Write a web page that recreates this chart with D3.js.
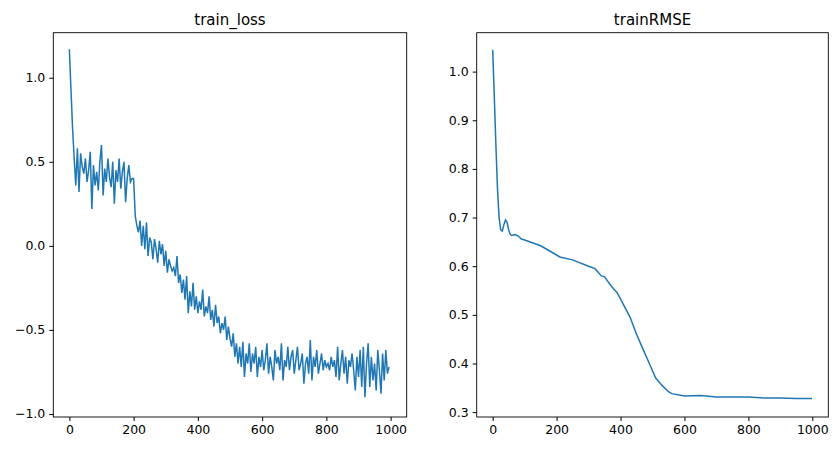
<html>
<head>
<meta charset="utf-8">
<script src="https://cdn.jsdelivr.net/npm/d3@7"></script>
<style>
  body { margin: 0; background: white; }
  text { font-family: "DejaVu Sans", sans-serif; }
</style>
</head>
<body>
<script>
// train_loss sampled every 5 steps
var lossStep = 5;
var lossValues = [1.17, 0.93, 0.70, 0.52, 0.36,
  0.58, 0.32, 0.55, 0.47, 0.43, 0.52, 0.38, 0.45, 0.56, 0.22, 0.48, 0.36, 0.44, 0.33, 0.50, 0.60, 0.30, 0.46, 0.38, 0.52,
  0.41, 0.35, 0.50, 0.25, 0.45, 0.38, 0.52, 0.34, 0.44, 0.50, 0.26, 0.40, 0.48, 0.38, 0.40,
  0.40, 0.18, 0.12, 0.08, 0.15, 0.00, 0.12, -0.02, 0.14, -0.06, 0.05,
  0.02, -0.08, 0.04, -0.02, -0.10, 0.03, -0.05, 0.01, -0.12, -0.03, -0.16, -0.08, -0.12, -0.15, -0.13, -0.18, -0.06,
  -0.22, -0.17, -0.28, -0.20, -0.32, -0.18, -0.40, -0.27, -0.36, -0.22, -0.38, -0.30, -0.40, -0.33, -0.38, -0.26,
  -0.42, -0.36, -0.40, -0.30, -0.44, -0.38, -0.48, -0.35, -0.46, -0.42, -0.52, -0.46, -0.50, -0.42, -0.56, -0.48,
  -0.55, -0.60, -0.52, -0.66, -0.58, -0.70, -0.60, -0.72, -0.57, -0.78, -0.64, -0.70, -0.58, -0.75, -0.64, -0.70,
  -0.60, -0.78, -0.66, -0.72, -0.62, -0.74, -0.68, -0.58, -0.76, -0.66, -0.72, -0.80, -0.62, -0.70, -0.66, -0.74,
  -0.58, -0.80, -0.68, -0.72, -0.60, -0.74, -0.66, -0.62, -0.76, -0.68, -0.60, -0.74, -0.70, -0.64, -0.82, -0.70,
  -0.66, -0.76, -0.56, -0.80, -0.66, -0.72, -0.62, -0.76, -0.70, -0.64, -0.74, -0.68, -0.72, -0.70, -0.74, -0.66,
  -0.72, -0.68, -0.78, -0.60, -0.80, -0.70, -0.62, -0.76, -0.66, -0.82, -0.68, -0.72, -0.64, -0.74, -0.86, -0.66,
  -0.78, -0.62, -0.84, -0.60, -0.90, -0.70, -0.58, -0.84, -0.66, -0.80, -0.70, -0.86, -0.62, -0.74, -0.88, -0.64,
  -0.80, -0.62, -0.76, -0.72];

var rmseSteps = [0, 5, 10, 15, 20, 25, 30, 35, 40, 45, 50, 55, 60, 70, 80, 90, 100, 150, 200, 210, 250, 300, 320, 340, 350,
  370, 390, 410, 430, 450, 470, 490, 510, 530, 550, 560, 600, 650, 700, 750, 800, 850, 900, 950, 999];
var rmseValues = [1.045, 0.95, 0.85, 0.76, 0.70, 0.675, 0.672, 0.685, 0.695, 0.69, 0.675, 0.665, 0.663, 0.665, 0.662, 0.656,
  0.654, 0.642, 0.623, 0.619, 0.613, 0.60, 0.595, 0.58, 0.578, 0.56, 0.545, 0.52, 0.495, 0.46, 0.43, 0.40, 0.37, 0.355, 0.342,
  0.338, 0.333, 0.334, 0.331, 0.331, 0.331, 0.329, 0.329, 0.328, 0.328];

var xTicks = [0, 200, 400, 600, 800, 1000];
var lossTicks = [-1.0, -0.5, 0.0, 0.5, 1.0];
var rmseTicks = [0.3, 0.4, 0.5, 0.6, 0.7, 0.8, 0.9, 1.0];

var svg = d3.select("body").append("svg").attr("width", 840).attr("height", 451);

function panel(left, right, title, xs, ys, yDomain, yTicks) {
  var top = 32.7, bottom = 417;
  var x = d3.scaleLinear().domain([-50, 1050]).range([left, right]);
  var y = d3.scaleLinear().domain(yDomain).range([bottom, top]);
  var g = svg.append("g");
  var line = d3.line().x(function(d) { return x(d[0]); }).y(function(d) { return y(d[1]); });
  g.append("path").datum(d3.zip(xs, ys))
    .attr("d", line).attr("fill", "none").attr("stroke", "#1f77b4").attr("stroke-width", 1.5);
  var fmt = function(d) { return d3.format(".1f")(d).replace("-", "\u2212"); };
  var ax = g.append("g").attr("transform", "translate(0," + bottom + ")")
    .call(d3.axisBottom(x).tickValues(xTicks).tickSize(4).tickPadding(4).tickFormat(d3.format("d")));
  var ay = g.append("g").attr("transform", "translate(" + left + ",0)")
    .call(d3.axisLeft(y).tickValues(yTicks).tickSize(4).tickPadding(4).tickFormat(fmt));
  [ax, ay].forEach(function(a) {
    a.select(".domain").remove();
    a.selectAll("text").attr("font-size", 12.5).attr("fill", "#000").style("font-family", "DejaVu Sans");
    a.selectAll("line").attr("stroke", "#000");
  });
  g.append("rect").attr("x", left).attr("y", top).attr("width", right - left).attr("height", bottom - top)
    .attr("fill", "none").attr("stroke", "#000").attr("stroke-width", 0.9);
  g.append("text").attr("x", (left + right) / 2).attr("y", 25).attr("text-anchor", "middle")
    .attr("font-size", 15).text(title);
}

panel(53.3, 406.7, "train_loss", lossValues.map(function(d, i) { return i * lossStep; }), lossValues, [-1.018, 1.268], lossTicks);
panel(476.7, 828.3, "trainRMSE", rmseSteps, rmseValues, [0.290, 1.080], rmseTicks);
</script>
</body>
</html>
